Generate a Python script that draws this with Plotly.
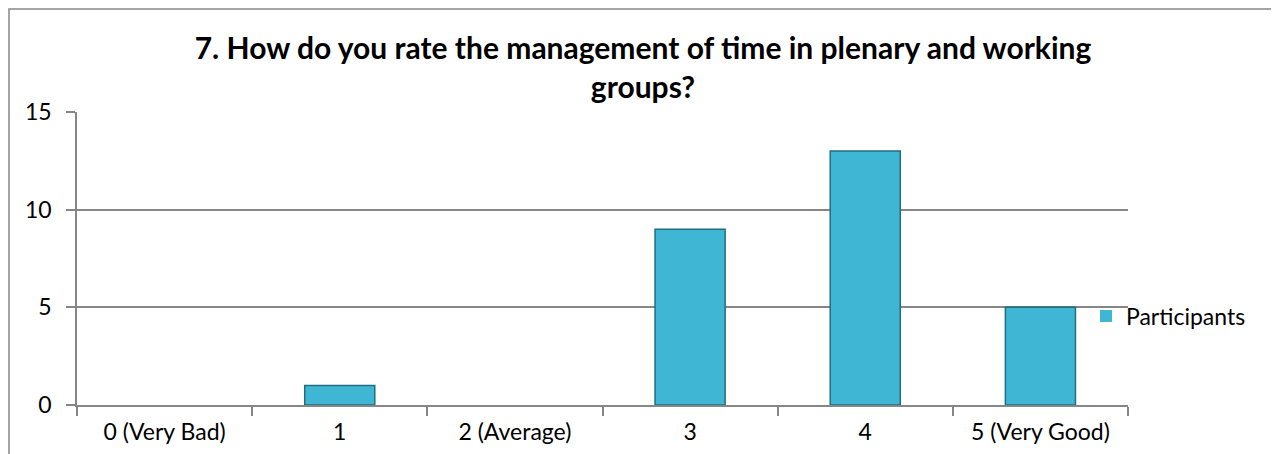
import plotly.graph_objects as go

categories = ["0 (Very Bad)", "1", "2 (Average)", "3", "4", "5 (Very Good)"]
participants = [0, 1, 0, 9, 13, 5]
y_ticks = [0, 5, 10, 15]
title_text = "7. How do you rate the management of time in plenary and working<br>groups?"
series_name = "Participants"

# page body has an 8px default margin; work in reference-screen pixels and shift
OFF = 8
W, H = 1279, 454
L, R, T, B = 77 - OFF, 1128 - OFF, 112 - OFF, 405 - OFF

def px_x(p):
    return (p - OFF - L) / (R - L)

def px_y(p):
    return (B - (p - OFF)) / (B - T)

FONT = "Lato"
GREY = "#868686"

fig = go.Figure()
fig.add_trace(go.Bar(
    x=categories, y=participants, name=series_name,
    marker=dict(color="#3FB6D3",
                line=dict(color="#1F6E82", width=[0 if v == 0 else 1.5 for v in participants])),
    showlegend=True,
))

fig.update_layout(
    width=W, height=H,
    margin=dict(l=L, r=W - R, t=T, b=H - B, pad=0),
    paper_bgcolor="white", plot_bgcolor="white",
    bargap=0.6,
    font=dict(family=FONT, size=23, color="black"),
    title=dict(text=title_text, xref="container", x=(643 - OFF) / W, xanchor="center",
               yref="container", y=1 - (59 - OFF) / H, yanchor="middle",
               font=dict(family=FONT, size=30, color="black", weight="bold")),
    xaxis=dict(type="category", tickson="boundaries", ticks="outside", ticklen=9,
               tickcolor=GREY, tickwidth=1.5, showline=True, linecolor=GREY,
               linewidth=1.5, showgrid=False, tickfont=dict(size=23), zeroline=False,
               ticklabelstandoff=6),
    yaxis=dict(range=[0, 15], tickvals=y_ticks, ticks="outside", ticklen=9,
               tickcolor=GREY, tickwidth=1.5, showline=True, linecolor=GREY,
               linewidth=1.5, showgrid=True, gridcolor=GREY, gridwidth=1.5,
               zeroline=False, tickfont=dict(size=23), ticklabelstandoff=10),
    legend=dict(x=px_x(1086), y=px_y(316), xanchor="left", yanchor="middle",
                font=dict(size=23), bgcolor="rgba(0,0,0,0)", itemwidth=30),
    shapes=[dict(type="rect", xref="paper", yref="paper",
                 x0=px_x(9), x1=px_x(1278), y0=px_y(470), y1=px_y(9),
                 line=dict(color=GREY, width=1.5), layer="below")],
)

fig.write_html("out.html")
